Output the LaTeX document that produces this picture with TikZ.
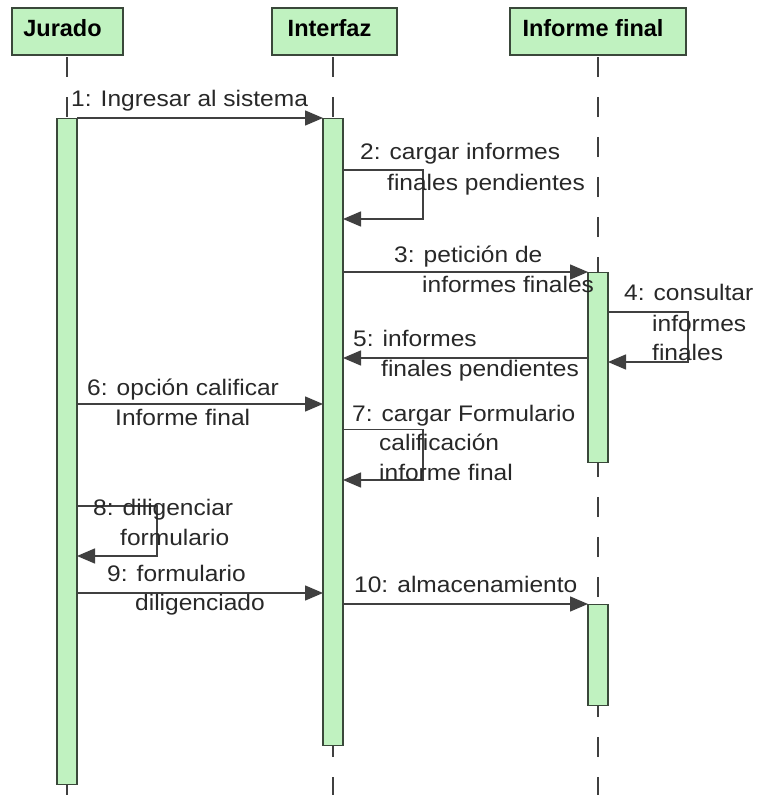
\documentclass[tikz,border=0pt]{standalone}
\usepackage{fontspec}
\usetikzlibrary{arrows.meta}
\newfontfamily\msgfont[FakeStretch=1.09]{Liberation Sans}
\newfontfamily\hdrfont{Liberation Sans}

\definecolor{umlgreen}{RGB}{192,242,192}
\definecolor{umlborder}{RGB}{58,72,58}
\definecolor{msgline}{RGB}{64,64,64}
\definecolor{msgtext}{RGB}{40,40,40}

\tikzset{
  hdr/.style={draw=umlborder, line width=1.8pt, fill=umlgreen, inner sep=0pt,
    minimum height=47pt, text height=16.8pt, text depth=6.4pt,
    font=\hdrfont\bfseries\fontsize{23.5pt}{28pt}\selectfont, text=black},
  bar/.style={draw=umlborder, line width=1.4pt, fill=umlgreen, inner sep=0pt,
    minimum width=20pt, anchor=north},
  life/.style={draw=msgline, line width=1.4pt, dash pattern=on 20pt off 20pt},
  msg/.style={draw=msgline, line width=1.4pt, line join=miter,
    -{Triangle[length=18pt,width=15pt]}},
  lbl/.style={anchor=base west, inner sep=0pt, text=msgtext,
    font=\msgfont\fontsize{22.5pt}{27pt}\selectfont},
}

\begin{document}
\begin{tikzpicture}[x=1pt, y=-1pt]
\useasboundingbox[fill=white] (0,0) rectangle (758,795);

% participants
\node[hdr, minimum width=111pt] (jur) at (67.5,31.5) {Jurado\hspace*{10pt}};
\node[hdr, minimum width=125pt] (int) at (334.5,31.5) {Interfaz\hspace*{10pt}};
\node[hdr, minimum width=176pt] (inf) at (598,31.5) {Informe final\hspace*{10pt}};

% lifelines
\coordinate (jurEnd) at (67,797);
\coordinate (intEnd) at (333,797);
\coordinate (infEnd) at (598,797);
\draw[life] (67,57) -- (jurEnd);
\draw[life] (333,57) -- (intEnd);
\draw[life] (598,57) -- (infEnd);

% activation bars
\node[bar, minimum height=666pt] (actJ) at (67,118) {};
\node[bar, minimum height=627pt] (actI) at (333,118) {};
\node[bar, minimum height=190pt] (actF1) at (598,272) {};
\node[bar, minimum height=101pt] (actF2) at (598,604) {};

% message end points
\coordinate (m1a) at (77,118);   \coordinate (m1b) at (323,118);
\coordinate (m2a) at (343,170);  \coordinate (m2b) at (343,219);
\coordinate (m3a) at (343,272);  \coordinate (m3b) at (588,272);
\coordinate (m4a) at (608,312);  \coordinate (m4b) at (608,362);
\coordinate (m5a) at (588,358);  \coordinate (m5b) at (343,358);
\coordinate (m6a) at (77,404);   \coordinate (m6b) at (323,404);
\coordinate (m7a) at (343,429.5);\coordinate (m7b) at (343,480);
\coordinate (m8a) at (77,506);   \coordinate (m8b) at (77,556);
\coordinate (m9a) at (77,593);   \coordinate (m9b) at (323,593);
\coordinate (m10a) at (343,604); \coordinate (m10b) at (588,604);

% messages
\draw[msg] (m1a) -- (m1b);
\draw[msg] (m2a) -- ++(80,0) |- (m2b);
\draw[msg] (m3a) -- (m3b);
\draw[msg] (m4a) -- ++(80,0) |- (m4b);
\draw[msg] (m5a) -- (m5b);
\draw[msg] (m6a) -- (m6b);
\draw[msg] (m7a) -- ++(80,0) |- (m7b);
\draw[msg] (m8a) -- ++(80,0) |- (m8b);
\draw[msg] (m9a) -- (m9b);
\draw[msg] (m10a) -- (m10b);

% message labels
\node[lbl] (l1) at (71,106) {1: Ingresar al sistema};
\node[lbl] (l2a) at (360,159) {2: cargar informes};
\node[lbl] (l2b) at (387,190) {finales pendientes};
\node[lbl] (l3a) at (394,262.5) {3: petición de};
\node[lbl] (l3b) at (422,292) {informes finales};
\node[lbl] (l4a) at (624,300.5) {4: consultar};
\node[lbl] (l4b) at (652,331.5) {informes};
\node[lbl] (l4c) at (652,360.5) {finales};
\node[lbl] (l5a) at (353,346.5) {5: informes};
\node[lbl] (l5b) at (381,376) {finales pendientes};
\node[lbl] (l6a) at (87,395) {6: opción calificar};
\node[lbl] (l6b) at (115,425) {Informe final};
\node[lbl] (l7a) at (352,421) {7: cargar Formulario};
\node[lbl] (l7b) at (379,450) {calificación};
\node[lbl] (l7c) at (379,480) {informe final};
\node[lbl] (l8a) at (93,515) {8: diligenciar};
\node[lbl] (l8b) at (120,545) {formulario};
\node[lbl] (l9a) at (107,581.5) {9: formulario};
\node[lbl] (l9b) at (135,610) {diligenciado};
\node[lbl] (l10) at (354,592.5) {10: almacenamiento};
\end{tikzpicture}
\end{document}
